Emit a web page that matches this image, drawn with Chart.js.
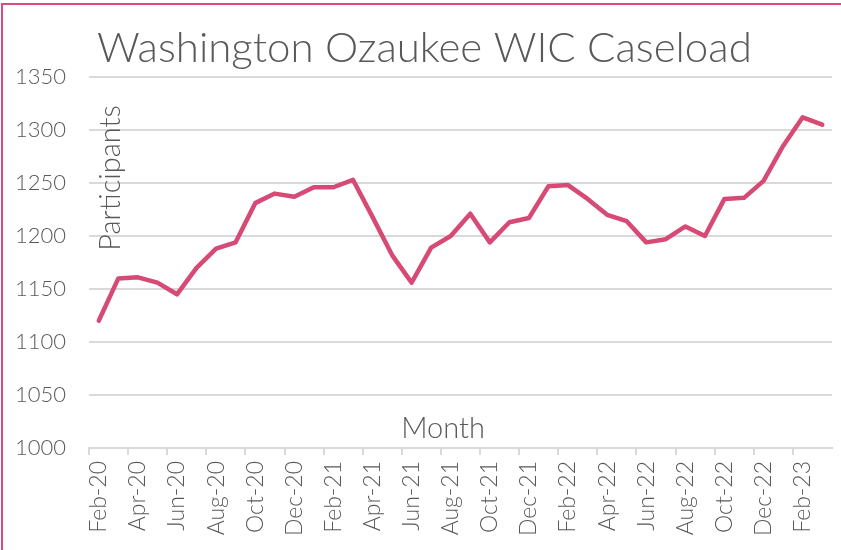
<!DOCTYPE html>
<html>
<head>
<meta charset="utf-8">
<script src="https://cdn.jsdelivr.net/npm/chart.js@4.4.0/dist/chart.umd.min.js"></script>
<style>
  html, body { margin: 0; padding: 0; background: #fff; }
  #wrap { position: relative; width: 841px; height: 550px; overflow: hidden; }
  #frame { position: absolute; left: 1px; top: 3px; width: 900px; height: 600px;
           border-left: 2px solid #d94b7a; border-top: 2px solid #d94b7a; }
  canvas { position: absolute; left: 0; top: 0; }
</style>
</head>
<body>
<div id="wrap">
  <div id="frame"></div>
  <canvas id="myChart" width="841" height="550"></canvas>
</div>
<script>
const months = ['Feb-20','Mar-20','Apr-20','May-20','Jun-20','Jul-20','Aug-20','Sep-20','Oct-20','Nov-20','Dec-20',
  'Jan-21','Feb-21','Mar-21','Apr-21','May-21','Jun-21','Jul-21','Aug-21','Sep-21','Oct-21','Nov-21','Dec-21',
  'Jan-22','Feb-22','Mar-22','Apr-22','May-22','Jun-22','Jul-22','Aug-22','Sep-22','Oct-22','Nov-22','Dec-22',
  'Jan-23','Feb-23','Mar-23'];
const participants = [1120, 1160, 1161, 1156, 1145, 1170, 1188, 1194, 1231, 1240, 1237,
  1246, 1246, 1253, 1218, 1182, 1156, 1189, 1200, 1221, 1194, 1213, 1217,
  1247, 1248, 1235, 1220, 1214, 1194, 1197, 1209, 1200, 1235, 1236, 1252,
  1285, 1312, 1305];
const yTicks = [1000, 1050, 1100, 1150, 1200, 1250, 1300, 1350];

const chartTitle = 'Washington Ozaukee WIC Caseload';
const yTitle = 'Participants';
const xTitle = 'Month';

const textColor = '#595959';
const gridColor = '#d9d9d9';
const fontFam = 'Lato, "Open Sans", sans-serif';

// titles drawn inside the plot like the original
const labelsPlugin = {
  id: 'labelsPlugin',
  afterDraw(chart) {
    const ctx = chart.ctx;
    const a = chart.chartArea;
    ctx.save();
    ctx.fillStyle = textColor;
    ctx.font = '300 42px ' + fontFam;
    ctx.textAlign = 'left';
    ctx.textBaseline = 'alphabetic';
    ctx.fillText(chartTitle, a.left + 8, 62);

    ctx.font = '300 29px ' + fontFam;
    ctx.textAlign = 'center';
    ctx.fillText(xTitle, 443, 438);

    ctx.translate(120, 178);
    ctx.rotate(-Math.PI / 2);
    ctx.fillText(yTitle, 0, 0);
    ctx.restore();
  }
};

const ctx = document.getElementById('myChart');
const myChart = new Chart(ctx, {
  type: 'line',
  data: {
    labels: months,
    datasets: [{
      label: yTitle,
      data: participants,
      borderColor: '#d64a75',
      borderWidth: 4.5,
      pointRadius: 0,
      tension: 0,
      borderJoinStyle: 'round',
      borderCapStyle: 'round'
    }]
  },
  options: {
    responsive: false,
    animation: false,
    layout: { padding: { top: 77, right: 9, left: 0, bottom: 0 } },
    plugins: {
      legend: { display: false },
      tooltip: { enabled: false }
    },
    scales: {
      x: {
        offset: true,
        afterFit(scale) {
          scale.height = 102;
          scale.paddingLeft = 0;
          scale.paddingRight = 0;
        },
        grid: {
          offset: true,
          drawOnChartArea: false,
          drawTicks: true,
          tickLength: 7,
          lineWidth: 2,
          color: c => (c.index % 2 === 0 ? gridColor : 'rgba(0,0,0,0)')
        },
        border: { display: true, color: gridColor, width: 2 },
        ticks: {
          autoSkip: false,
          maxRotation: 90,
          minRotation: 90,
          padding: 6,
          color: textColor,
          font: { family: fontFam, size: 23, weight: 300 },
          callback: function(v, i) { return i % 2 === 0 ? this.getLabelForValue(v) : ''; }
        }
      },
      y: {
        min: 1000,
        max: 1350,
        afterFit(scale) { scale.width = 89; },
        afterBuildTicks(scale) { scale.ticks = yTicks.map(v => ({ value: v })); },
        grid: { color: gridColor, lineWidth: 2, drawTicks: false },
        border: { display: false },
        ticks: {
          padding: 23,
          color: textColor,
          font: { family: fontFam, size: 22, weight: 300 },
          callback: v => String(v)
        }
      }
    }
  },
  plugins: [labelsPlugin]
});
</script>
</body>
</html>
